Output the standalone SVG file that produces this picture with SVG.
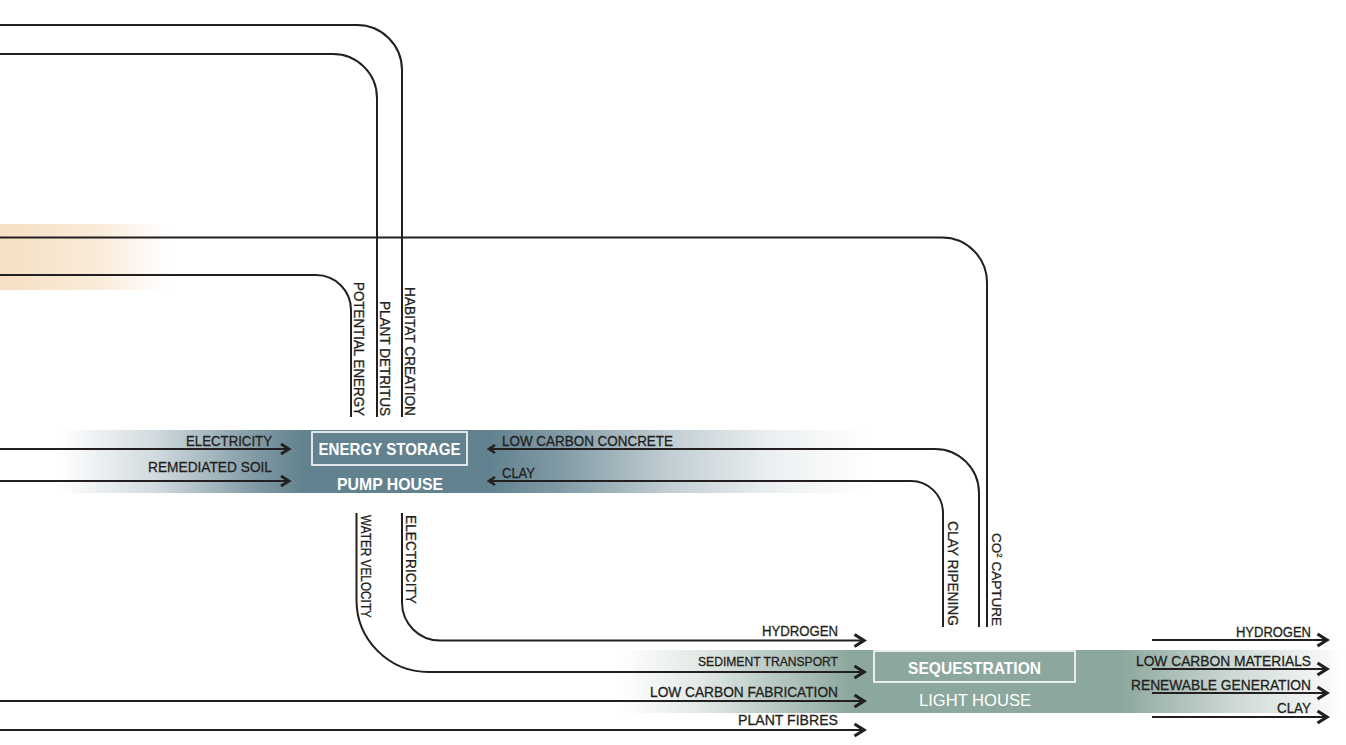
<svg xmlns="http://www.w3.org/2000/svg" width="1346" height="745" viewBox="0 0 1346 745">
<style>
.ln{fill:none;stroke:#231f20;stroke-width:2}
.lbl{font-family:"Liberation Sans",Arial,sans-serif;font-size:14.5px;fill:#231f20;stroke:#231f20;stroke-width:0.3}
.sm{font-size:13px}
.vl{font-family:"Liberation Sans",Arial,sans-serif;font-size:14.5px;fill:#231f20;stroke:#231f20;stroke-width:0.3}
.nd{font-family:"Liberation Sans",Arial,sans-serif;font-size:16.5px;font-weight:bold;fill:#fff;text-anchor:middle}
.box{fill:none;stroke:#fff;stroke-width:1.6}
</style>
<defs>
<linearGradient id="gBlue" gradientUnits="userSpaceOnUse" x1="60" y1="0" x2="870" y2="0">
<stop offset="0" stop-color="#62828f" stop-opacity="0"/>
<stop offset="0.12" stop-color="#62828f" stop-opacity="0.3"/>
<stop offset="0.24" stop-color="#62828f" stop-opacity="0.8"/>
<stop offset="0.3" stop-color="#62828f" stop-opacity="1"/>
<stop offset="0.53" stop-color="#62828f" stop-opacity="1"/>
<stop offset="0.62" stop-color="#62828f" stop-opacity="0.8"/>
<stop offset="0.75" stop-color="#62828f" stop-opacity="0.4"/>
<stop offset="0.88" stop-color="#62828f" stop-opacity="0.12"/>
<stop offset="1" stop-color="#62828f" stop-opacity="0"/>
</linearGradient>
<linearGradient id="gGreen" gradientUnits="userSpaceOnUse" x1="620" y1="0" x2="1346" y2="0">
<stop offset="0" stop-color="#8ca79d" stop-opacity="0"/>
<stop offset="0.11" stop-color="#8ca79d" stop-opacity="0.25"/>
<stop offset="0.25" stop-color="#8ca79d" stop-opacity="0.75"/>
<stop offset="0.32" stop-color="#8ca79d" stop-opacity="1"/>
<stop offset="0.69" stop-color="#8ca79d" stop-opacity="1"/>
<stop offset="0.84" stop-color="#8ca79d" stop-opacity="0.45"/>
<stop offset="0.97" stop-color="#8ca79d" stop-opacity="0.08"/>
<stop offset="1" stop-color="#8ca79d" stop-opacity="0"/>
</linearGradient>
<linearGradient id="gOrange" gradientUnits="userSpaceOnUse" x1="0" y1="0" x2="170" y2="0">
<stop offset="0" stop-color="#f2d2aa" stop-opacity="0.7"/>
<stop offset="0.55" stop-color="#f2d2aa" stop-opacity="0.45"/>
<stop offset="1" stop-color="#f2d2aa" stop-opacity="0"/>
</linearGradient>
<marker id="arr" markerWidth="14" markerHeight="16" refX="11" refY="6.5" orient="auto" markerUnits="userSpaceOnUse" overflow="visible">
<path d="M1.5,0.5 L11,6.5 L1.5,12.5" fill="none" stroke="#231f20" stroke-width="3.2"/>
</marker>
<marker id="arrM" markerWidth="12" markerHeight="12" refX="9" refY="5.5" orient="auto" markerUnits="userSpaceOnUse" overflow="visible">
<path d="M1,0.5 L9,5.5 L1,10.5" fill="none" stroke="#231f20" stroke-width="2.8"/>
</marker>
<marker id="arrS" markerWidth="10" markerHeight="10" refX="7" refY="4.5" orient="auto" markerUnits="userSpaceOnUse" overflow="visible">
<path d="M1,0.5 L7,4.5 L1,8.5" fill="none" stroke="#231f20" stroke-width="2.5"/>
</marker>
</defs>
<rect width="1346" height="745" fill="#fff"/>
<rect id="glow" x="0" y="224" width="170" height="66" fill="url(#gOrange)"/>
<g id="pump-house">
<rect x="60" y="430" width="810" height="63" fill="url(#gBlue)"/>
<rect class="box" x="312" y="432" width="155" height="33"/>
<text class="nd" x="389.5" y="455" textLength="142" lengthAdjust="spacingAndGlyphs">ENERGY STORAGE</text>
<text class="nd" x="390" y="490" textLength="106" lengthAdjust="spacingAndGlyphs">PUMP HOUSE</text>
</g>
<g id="light-house">
<rect x="620" y="650" width="726" height="63" fill="url(#gGreen)"/>
<rect class="box" x="874" y="651" width="201" height="31"/>
<text class="nd" x="974.5" y="674" textLength="133" lengthAdjust="spacingAndGlyphs">SEQUESTRATION</text>
<text class="nd" x="975" y="706" style="font-weight:normal;font-size:17px" textLength="112" lengthAdjust="spacingAndGlyphs">LIGHT HOUSE</text>
</g>
<g id="connectors">
<path class="ln" d="M0,25 H357 A45,45 0 0 1 402,70 V417"/>
<path class="ln" d="M0,54 H333 A44,44 0 0 1 377,98 V417"/>
<path class="ln" d="M0,237.5 H942 A45,45 0 0 1 987,282.5 V627"/>
<path class="ln" d="M0,275 H316 A35,35 0 0 1 351,310 V417"/>
<path class="ln" d="M0,449 H289" marker-end="url(#arrM)"/>
<path class="ln" d="M0,481 H289" marker-end="url(#arrM)"/>
<path class="ln" d="M979,627 V493 A44,44 0 0 0 935,449 H489" marker-end="url(#arrS)"/>
<path class="ln" d="M943,627 V513 A32,32 0 0 0 911,481 H489" marker-end="url(#arrS)"/>
<path class="ln" d="M356.5,513 V600 A72,72 0 0 0 428.5,672 H864" marker-end="url(#arr)"/>
<path class="ln" d="M402,513 V602 A38,38 0 0 0 440,640.5 H864" marker-end="url(#arr)"/>
<path class="ln" d="M0,701 H864" marker-end="url(#arr)"/>
<path class="ln" d="M0,730 H864" marker-end="url(#arr)"/>
<path class="ln" d="M1152,640 H1327" marker-end="url(#arr)"/>
<path class="ln" d="M1152,669 H1327" marker-end="url(#arr)"/>
<path class="ln" d="M1152,693 H1327" marker-end="url(#arr)"/>
<path class="ln" d="M1152,717 H1327" marker-end="url(#arr)"/>
</g>
<g id="connector-labels">
<text class="lbl" x="272" y="446" text-anchor="end" textLength="86" lengthAdjust="spacingAndGlyphs">ELECTRICITY</text>
<text class="lbl" x="272" y="472" text-anchor="end" textLength="124" lengthAdjust="spacingAndGlyphs">REMEDIATED SOIL</text>
<text class="lbl" x="502" y="446" textLength="171" lengthAdjust="spacingAndGlyphs">LOW CARBON CONCRETE</text>
<text class="lbl" x="502" y="478" textLength="33" lengthAdjust="spacingAndGlyphs">CLAY</text>
<text class="vl" transform="translate(353.5,416) rotate(90)" text-anchor="end" textLength="134" lengthAdjust="spacingAndGlyphs">POTENTIAL ENERGY</text>
<text class="vl" transform="translate(379.5,416) rotate(90)" text-anchor="end" textLength="115" lengthAdjust="spacingAndGlyphs">PLANT DETRITUS</text>
<text class="vl" transform="translate(404.5,416) rotate(90)" text-anchor="end" textLength="129" lengthAdjust="spacingAndGlyphs">HABITAT CREATION</text>
<text class="vl" transform="translate(361,515) rotate(90)" textLength="103" lengthAdjust="spacingAndGlyphs">WATER VELOCITY</text>
<text class="vl" transform="translate(406,515) rotate(90)" textLength="89" lengthAdjust="spacingAndGlyphs">ELECTRICITY</text>
<text class="vl" transform="translate(947.5,626) rotate(90)" text-anchor="end" textLength="105" lengthAdjust="spacingAndGlyphs">CLAY RIPENING</text>
<text class="vl" transform="translate(991.5,626) rotate(90)" text-anchor="end" style="font-size:13.5px">CO<tspan font-size="8" dy="-5">2</tspan><tspan dy="5"> CAPTURE</tspan></text>
<text class="lbl" x="838" y="636" text-anchor="end" textLength="76" lengthAdjust="spacingAndGlyphs">HYDROGEN</text>
<text class="lbl sm" x="838" y="666" text-anchor="end" textLength="140" lengthAdjust="spacingAndGlyphs">SEDIMENT TRANSPORT</text>
<text class="lbl" x="838" y="697" text-anchor="end" textLength="188" lengthAdjust="spacingAndGlyphs">LOW CARBON FABRICATION</text>
<text class="lbl" x="838" y="725" text-anchor="end" textLength="100" lengthAdjust="spacingAndGlyphs">PLANT FIBRES</text>
<text class="lbl" x="1311" y="637" text-anchor="end" textLength="75" lengthAdjust="spacingAndGlyphs">HYDROGEN</text>
<text class="lbl" x="1311" y="666" text-anchor="end" textLength="175" lengthAdjust="spacingAndGlyphs">LOW CARBON MATERIALS</text>
<text class="lbl" x="1311" y="690" text-anchor="end" textLength="180" lengthAdjust="spacingAndGlyphs">RENEWABLE GENERATION</text>
<text class="lbl" x="1311" y="713" text-anchor="end" textLength="34" lengthAdjust="spacingAndGlyphs">CLAY</text>
</g>
</svg>
